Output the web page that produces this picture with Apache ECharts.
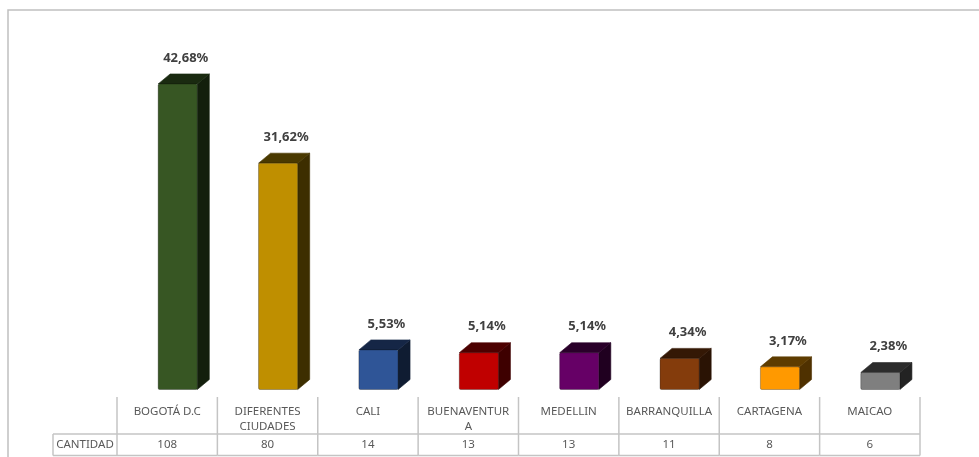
<!DOCTYPE html>
<html>
<head>
<meta charset="utf-8">
<script src="https://cdn.jsdelivr.net/npm/echarts@6/dist/echarts.min.js"></script>
<style>
html,body{margin:0;padding:0;background:#fff;}
#c{width:979px;height:457px;}
</style>
</head>
<body>
<div id="c"></div>
<script>
// ---- data ----
const categories = ['BOGOTÁ D.C', 'DIFERENTES\nCIUDADES', 'CALI', 'BUENAVENTUR\nA', 'MEDELLIN', 'BARRANQUILLA', 'CARTAGENA', 'MAICAO'];
const counts = [108, 80, 14, 13, 13, 11, 8, 6];
const percentLabels = ['42,68%', '31,62%', '5,53%', '5,14%', '5,14%', '4,34%', '3,17%', '2,38%'];
const rowLabel = 'CANTIDAD';

// ---- styles ----
const frontColors = ['#375623', '#bf8f00', '#2f5597', '#c00000', '#660066', '#843c0c', '#ff9900', '#7f7f7f'];
const sideColors  = ['#131f0c', '#3d2e00', '#0f1c32', '#3e0000', '#200020', '#2a1304', '#4f3100', '#232323'];
const topColors   = ['#1a2a10', '#4a3900', '#152646', '#4c0000', '#2a002a', '#341805', '#5e3c00', '#2c2c2c'];
const lineColor = '#c4c4c4';
const textFont = '"Noto Sans", sans-serif';

function txt(text, x, y, align, valign, size, weight, color, lh) {
  return {
    type: 'text',
    style: {
      text: text, x: x, y: y,
      align: align, verticalAlign: valign,
      textAlign: align, textVerticalAlign: valign,
      fontSize: size, fontWeight: weight, fontFamily: textFont,
      font: weight + ' ' + size + 'px ' + textFont,
      lineHeight: lh || size * 1.3,
      fill: color, textFill: color
    }
  };
}

function renderBar(params, api) {
  const i = api.value(0);
  const v = api.value(1);
  const base = api.coord([i, 0]);
  const top = api.coord([i, v]);
  const band = api.size([1, 0])[0];
  const w = band * 0.39;
  const cx = base[0] + band * 0.105;
  const x0 = cx - w / 2, x1 = cx + w / 2;
  const dx = 12, dy = 10;
  const yt = top[1], yb = base[1];
  return {
    type: 'group',
    children: [
      { type: 'polygon', shape: { points: [[x1, yt], [x1 + dx, yt - dy], [x1 + dx, yb - dy], [x1, yb]] },
        style: { fill: sideColors[i], stroke: sideColors[i], lineWidth: 0.6 } },
      { type: 'polygon', shape: { points: [[x0, yt], [x0 + dx, yt - dy], [x1 + dx, yt - dy], [x1, yt]] },
        style: { fill: topColors[i], stroke: topColors[i], lineWidth: 0.6 } },
      { type: 'rect', shape: { x: x0, y: yt, width: w, height: yb - yt, r: 1.5 },
        style: { fill: frontColors[i], stroke: 'rgba(0,0,0,0.35)', lineWidth: 0.8 } },
      txt(percentLabels[i], cx + 8, yt - dy - 16, 'center', 'middle', 13, 'bold', '#404040')
    ]
  };
}

function renderTable(params, api) {
  const i = api.value(0);
  const cs = params.coordSys;
  const band = api.size([1, 0])[0];
  const c = api.coord([i, 0])[0];
  const xl = c - band / 2, xr = c + band / 2;
  const yTop = cs.y, yBot = cs.y + cs.height;
  const yMid = yTop + 37;
  const ls = { stroke: lineColor, lineWidth: 1.5 };
  const ch = [
    { type: 'line', shape: { x1: xl, y1: yTop, x2: xl, y2: yBot }, style: ls },
    { type: 'line', shape: { x1: xl, y1: yMid, x2: xr, y2: yMid }, style: ls },
    { type: 'line', shape: { x1: xl, y1: yBot, x2: xr, y2: yBot }, style: ls },
    txt(categories[i], c, yTop + 7, 'center', 'top', 11.5, 'normal', '#595959', 15),
    txt(String(api.value(1)), c, (yMid + yBot) / 2, 'center', 'middle', 11.5, 'normal', '#595959')
  ];
  if (i === categories.length - 1) {
    ch.push({ type: 'line', shape: { x1: xr, y1: yTop, x2: xr, y2: yBot }, style: ls });
  }
  if (i === 0) {
    const xc = xl - 64;
    ch.push({ type: 'line', shape: { x1: xc, y1: yMid, x2: xl, y2: yMid }, style: ls });
    ch.push({ type: 'line', shape: { x1: xc, y1: yBot, x2: xl, y2: yBot }, style: ls });
    ch.push({ type: 'line', shape: { x1: xc, y1: yMid, x2: xc, y2: yBot }, style: ls });
    ch.push(txt(rowLabel, (xc + xl) / 2, (yMid + yBot) / 2, 'center', 'middle', 11.5, 'normal', '#595959'));
  }
  return { type: 'group', children: ch };
}

const chart = echarts.init(document.getElementById('c'));
chart.setOption({
  animation: false,
  backgroundColor: '#ffffff',
  graphic: [{
    type: 'rect', silent: true,
    shape: { x: 8, y: 10, width: 1200, height: 1000 },
    style: { fill: 'none', stroke: '#c0c0c0', lineWidth: 1.5 }
  }],
  grid: [
    { left: 117, right: 59, top: 50, bottom: 67.5 },
    { left: 117, right: 59, top: 397, bottom: 1.5 }
  ],
  xAxis: [
    { type: 'category', gridIndex: 0, data: categories, show: false },
    { type: 'category', gridIndex: 1, data: categories, show: false }
  ],
  yAxis: [
    { type: 'value', gridIndex: 0, min: 0, max: 120, show: false, splitLine: { show: false } },
    { type: 'value', gridIndex: 1, min: 0, max: 1, show: false, splitLine: { show: false } }
  ],
  series: [
    {
      type: 'custom', xAxisIndex: 0, yAxisIndex: 0,
      renderItem: renderBar,
      encode: { x: 0, y: 1 },
      data: counts.map(function (v, i) { return [i, v]; })
    },
    {
      type: 'custom', xAxisIndex: 1, yAxisIndex: 1,
      renderItem: renderTable,
      encode: { x: 0, y: 2 },
      data: counts.map(function (v, i) { return [i, v, 0]; })
    }
  ]
});
</script>
</body>
</html>
